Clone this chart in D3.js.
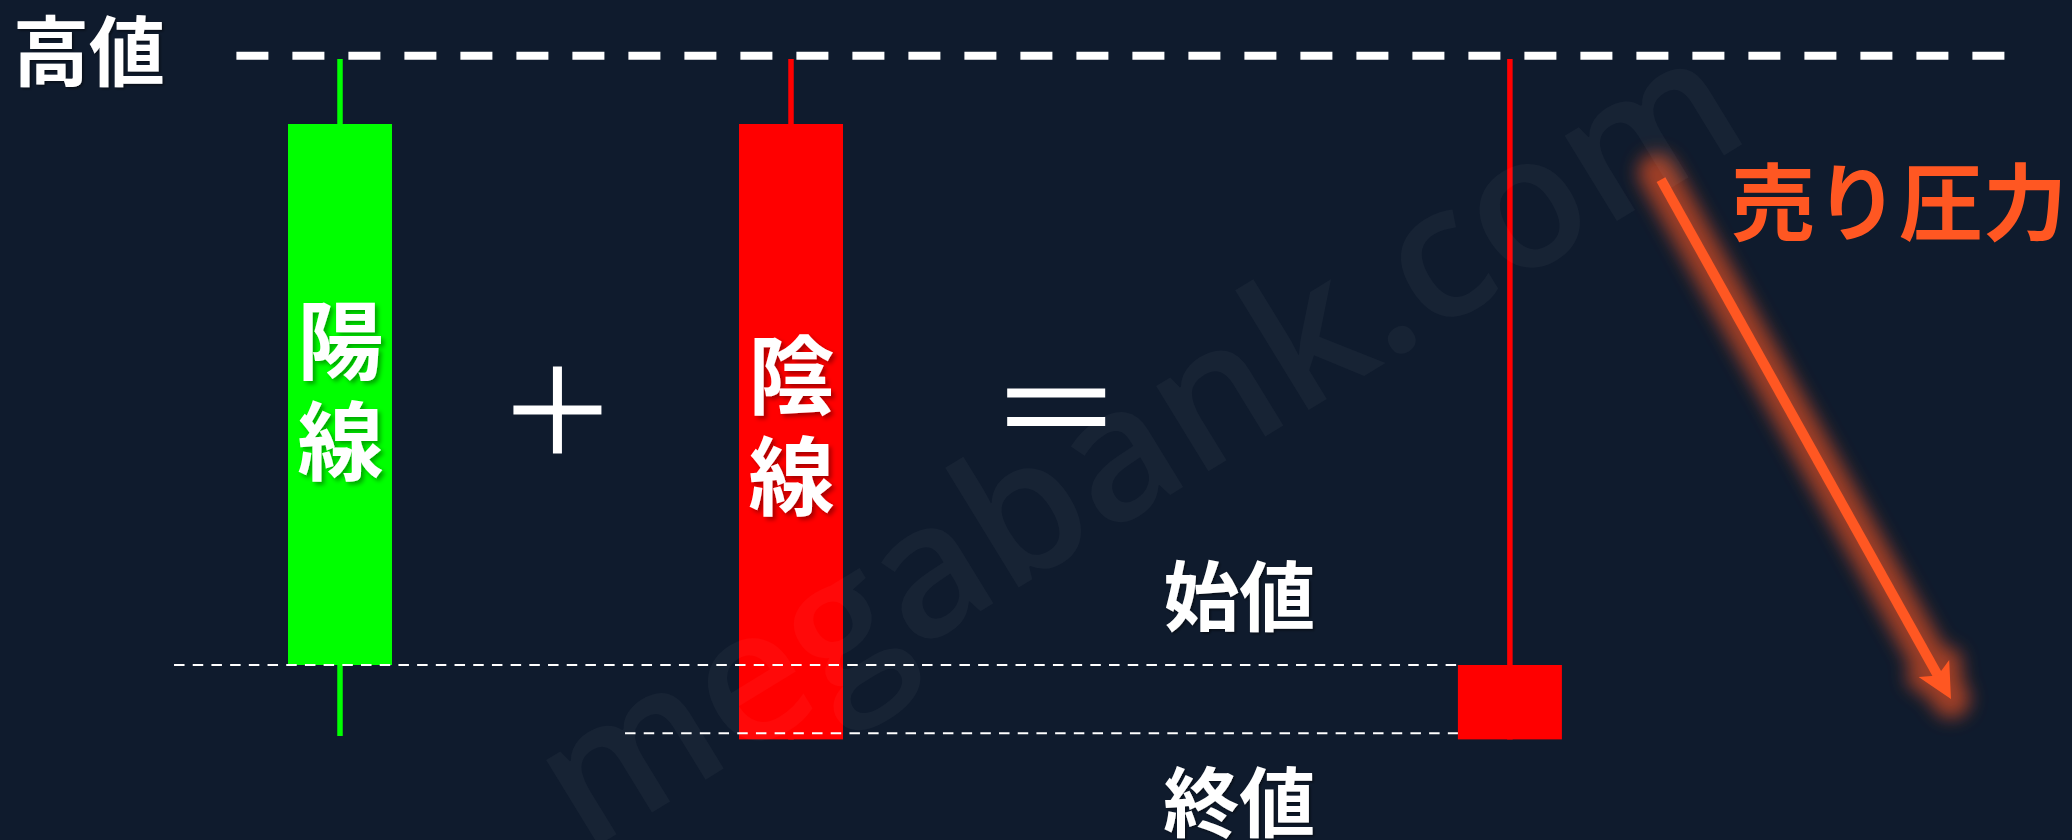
<!DOCTYPE html>
<html><head><meta charset="utf-8">
<script src="https://cdn.jsdelivr.net/npm/d3@7"></script>
<style>html,body{margin:0;padding:0;background:#0f1b2d;overflow:hidden}</style>
</head><body>
<svg id="chart" width="2072" height="840"></svg>
<script>
// ---------- data ----------
const candleNames  = ["陽線", "陰線", "合成"];
const candleSteps  = [0, 1, 2.594];          // horizontal position in "candle steps"
const candleOpen   = [20, 100, 20];
const candleClose  = [100, 9, 9];
const candleHigh   = [109.6, 109.6, 109.6];
const candleLow    = [9.5, 9, 9];
const candleColors = ["#00ff00", "#ff0000", "#ff0000"];
const candleLabels = [["陽", "線"], ["陰", "線"], []];

const levelNames  = ["高値", "始値", "終値"];
const levelValues = [110.1, 20, 9.9];
const levelFrom   = [-0.2297, -0.368, 0.632];
const levelTo     = [3.692, 2.594, 2.594];

const operatorSymbols = ["＋", "＝"];
const operatorSteps   = [0.481, 1.588];

const arrowStep  = [2.929, 3.572];
const arrowValue = [91.78, 14.97];
const arrowLabel = "売り圧力";
const watermark  = "megabank.com";

// ---------- setup ----------
const W = 2072, H = 840;
const svg = d3.select("#chart");
const x = d3.scaleLinear().domain([0, 1]).range([340, 791]);
const y = d3.scaleLinear().domain([20, 100]).range([665, 124]);
const bodyW = 104;
const CJK = "'Noto Sans CJK JP','Noto Sans CJK SC',sans-serif";
const ORANGE = "#ff5722";

svg.append("rect").attr("width", W).attr("height", H).attr("fill", "#0f1b2d");

const defs = svg.append("defs");
const sh = defs.append("filter").attr("id", "barShadow").attr("x", "-20%").attr("y", "-20%").attr("width", "150%").attr("height", "150%");
sh.append("feDropShadow").attr("dx", 3).attr("dy", 3).attr("stdDeviation", 2)
  .attr("flood-color", "#000").attr("flood-opacity", 0.35);
const sh2 = defs.append("filter").attr("id", "txtShadow").attr("x", "-20%").attr("y", "-20%").attr("width", "150%").attr("height", "150%");
sh2.append("feDropShadow").attr("dx", 1.5).attr("dy", 1.5).attr("stdDeviation", 1)
  .attr("flood-color", "#000").attr("flood-opacity", 0.5);
const glow = defs.append("filter").attr("id", "glow").attr("x", "-50%").attr("y", "-50%").attr("width", "200%").attr("height", "200%");
glow.append("feGaussianBlur").attr("stdDeviation", 9);

const candles = candleNames.map((n, i) => ({
  name: n, step: candleSteps[i], open: candleOpen[i], close: candleClose[i],
  high: candleHigh[i], low: candleLow[i], color: candleColors[i], label: candleLabels[i]
}));

// wicks
svg.append("g").selectAll("line").data(candles).join("line")
  .attr("x1", d => x(d.step)).attr("x2", d => x(d.step))
  .attr("y1", d => y(d.high)).attr("y2", d => y(d.low))
  .attr("stroke", d => d.color).attr("stroke-width", 5.5);

// bodies
svg.append("g").selectAll("rect").data(candles).join("rect")
  .attr("x", d => x(d.step) - bodyW / 2)
  .attr("y", d => y(Math.max(d.open, d.close)))
  .attr("width", bodyW)
  .attr("height", d => Math.abs(y(d.open) - y(d.close)))
  .attr("fill", d => d.color);

// vertical labels inside bodies
const labelTop = [216, 251];
candles.forEach((d, i) => {
  d.label.forEach((ch, k) => {
    const cy = y(Math.max(d.open, d.close)) + labelTop[i] + k * 101.5;
    svg.append("text").text(ch)
      .attr("x", x(d.step) + 0.5).attr("y", cy + 0.38 * 86)
      .attr("text-anchor", "middle")
      .attr("font-family", CJK).attr("font-weight", 700).attr("font-size", 86)
      .attr("fill", "#fff").attr("filter", "url(#barShadow)");
  });
});

// level lines
const levels = levelNames.map((n, i) => ({ name: n, value: levelValues[i], from: levelFrom[i], to: levelTo[i] }));
svg.append("line")
  .attr("x1", x(levels[0].from)).attr("x2", x(levels[0].to))
  .attr("y1", y(levels[0].value)).attr("y2", y(levels[0].value))
  .attr("stroke", "#fff").attr("stroke-width", 8).attr("stroke-dasharray", "32 24");
svg.append("g").selectAll("line").data(levels.slice(1)).join("line")
  .attr("x1", d => x(d.from)).attr("x2", d => x(d.to) - bodyW / 2)
  .attr("y1", d => y(d.value)).attr("y2", d => y(d.value))
  .attr("stroke", "#fff").attr("stroke-width", 2).attr("stroke-dasharray", "10.5 8.2");

// level labels
const fsL = 76;
svg.append("text").text(levels[0].name)
  .attr("x", 89).attr("y", y(levels[0].value) - 4.7 + 0.38 * fsL)
  .attr("text-anchor", "middle").attr("font-family", CJK).attr("font-weight", 700)
  .attr("font-size", fsL).attr("fill", "#fff").attr("filter", "url(#txtShadow)");
[[1, -69], [2, 69]].forEach(([i, off]) => {
  svg.append("text").text(levels[i].name)
    .attr("x", x(1.994)).attr("y", y(levels[i].value) + off + 0.38 * fsL)
    .attr("text-anchor", "middle").attr("font-family", CJK).attr("font-weight", 700)
    .attr("font-size", fsL).attr("fill", "#fff").attr("filter", "url(#txtShadow)");
});

// operators (+, =)
const opG = svg.append("g").attr("stroke", "#fff").attr("stroke-width", 9).attr("fill", "none");
const px = x(operatorSteps[0]) + 0.5, py = 410;
opG.append("path").attr("d", `M${px - 44},${py}H${px + 44}M${px},${py - 43.5}V${py + 43.5}`)
  .append("title").text(operatorSymbols[0]);
const ex = x(operatorSteps[1]);
opG.append("path").attr("d", `M${ex - 49},${393}H${ex + 49}M${ex - 49},${421.5}H${ex + 49}`)
  .append("title").text(operatorSymbols[1]);

// arrow
const ax1 = x(arrowStep[0]), ay1 = y(arrowValue[0]);
const ax2 = x(arrowStep[1]), ay2 = y(arrowValue[1]);
const len = Math.hypot(ax2 - ax1, ay2 - ay1);
const ux = (ax2 - ax1) / len, uy = (ay2 - ay1) / len;
const nx = -uy, ny = ux;
const headBack = 35, headHalf = 17.5, notch = 27;
const shaftEnd = [ax2 - ux * notch, ay2 - uy * notch];
const headPts = [
  [ax2, ay2],
  [ax2 - ux * headBack + nx * headHalf, ay2 - uy * headBack + ny * headHalf],
  [ax2 - ux * notch, ay2 - uy * notch],
  [ax2 - ux * headBack - nx * headHalf, ay2 - uy * headBack - ny * headHalf]
];
const glowG = svg.append("g").attr("filter", "url(#glow)").attr("opacity", 0.6);
glowG.append("line").attr("x1", ax1 - ux * 8).attr("y1", ay1 - uy * 8).attr("x2", ax2).attr("y2", ay2)
  .attr("stroke", ORANGE).attr("stroke-width", 38).attr("stroke-linecap", "round");
glowG.append("polygon").attr("points", headPts.map(p => p.join(",")).join(" ")).attr("fill", ORANGE)
  .attr("stroke", ORANGE).attr("stroke-width", 24).attr("stroke-linejoin", "round");
svg.append("line").attr("x1", ax1).attr("y1", ay1).attr("x2", shaftEnd[0] + ux * 4).attr("y2", shaftEnd[1] + uy * 4)
  .attr("stroke", ORANGE).attr("stroke-width", 10);
svg.append("polygon").attr("points", headPts.map(p => p.join(",")).join(" ")).attr("fill", ORANGE);

svg.append("text").text(arrowLabel)
  .attr("x", x(3.457)).attr("y", y(88.5) + 0.38 * 84)
  .attr("text-anchor", "middle").attr("font-family", CJK).attr("font-weight", 700)
  .attr("font-size", 84).attr("fill", ORANGE);

// watermark
svg.append("text").text(watermark)
  .attr("transform", "translate(1170,495) rotate(-31.5)")
  .attr("text-anchor", "middle")
  .attr("font-family", "'Open Sans',sans-serif").attr("font-weight", 600).attr("font-size", 185)
  .attr("fill", "#fff").attr("fill-opacity", 0.035);
</script>
</body></html>
